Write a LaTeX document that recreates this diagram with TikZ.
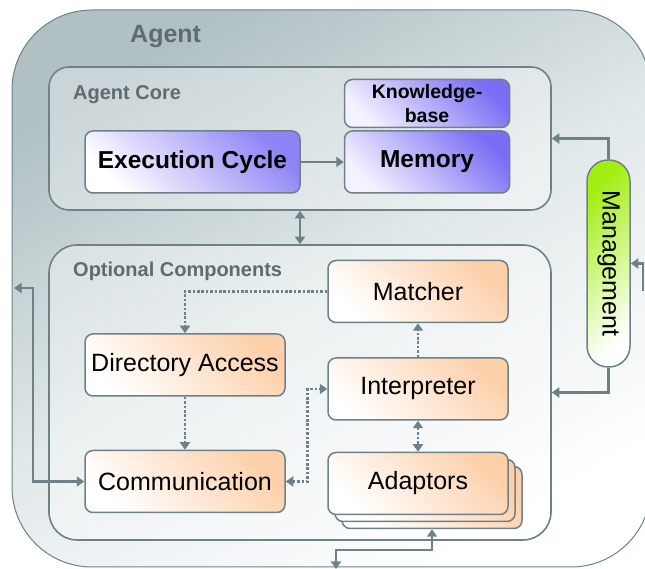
\documentclass[tikz,border=0pt]{standalone}
\usepackage{fontspec}
\usepackage{graphicx}
\setmainfont{Liberation Sans}
\usetikzlibrary{arrows.meta,positioning}
\definecolor{edgegray}{HTML}{6F8188}
\definecolor{titlegray}{HTML}{5E6C72}
\definecolor{agentgray}{HTML}{B0C0C3}
\definecolor{agentmid}{HTML}{E2E9EA}
\definecolor{corepurple}{HTML}{7A6EF4}
\definecolor{corelight}{HTML}{F4F2FF}
\definecolor{comporange}{HTML}{FDD0AA}
\definecolor{mgmtgreen}{HTML}{A2EE14}
\newcommand\compsize{\fontsize{25}{28}\selectfont}
\newcommand\coresize{\fontsize{24.5}{27}\selectfont}
\newcommand\kbsize{\fontsize{19.5}{24}\selectfont}
\newcommand\titlesize{\fontsize{20}{22}\selectfont}
\newcommand\agentsize{\fontsize{25}{28}\selectfont}
\tikzset{
    %Define standard arrow tip
    >={Triangle[width=10pt,length=7.5pt]},
    %Define style for the big frames
    container/.style={
           rectangle,
           rounded corners=20pt,
           draw=edgegray, line width=1.6pt,
           fill=white, fill opacity=0.35,
           inner sep=0pt},
    %Define style for boxes
    corebox/.style={
           rectangle,
           rounded corners=8pt,
           draw=edgegray, line width=1.5pt,
           top color=corepurple, bottom color=corelight,
           shading angle=-45,
           font=\coresize\bfseries,
           minimum height=62pt,
           inner sep=0pt},
    compbox/.style={
           rectangle,
           rounded corners=8pt,
           draw=edgegray, line width=1.5pt,
           top color=comporange, bottom color=white,
           shading angle=-45,
           font=\compsize,
           minimum width=180pt,
           minimum height=62pt,
           inner sep=0pt},
    title/.style={
           text=titlegray,
           font=\titlesize\bfseries,
           anchor=base west,
           inner sep=0pt},
    % Define arrow styles
    flow/.style={
           ->,
           draw=edgegray,
           line width=2.6pt},
    flowboth/.style={
           <->,
           draw=edgegray,
           line width=2.6pt},
    signal/.style={
           ->,
           draw=edgegray,
           line width=2.6pt,
           dash pattern=on 2.6pt off 1.8pt},
    signalboth/.style={
           <->,
           draw=edgegray,
           line width=2.6pt,
           dash pattern=on 2.6pt off 1.8pt}
}

\begin{document}
\begin{tikzpicture}[x=1pt, y=1pt]
 \useasboundingbox (0,0) rectangle (645,569);
 %frames
    \node[container, rounded corners=80pt, fill opacity=1, line width=1pt,
          top color=agentgray, bottom color=white, middle color=agentmid, shading angle=30,
          minimum width=639pt, minimum height=557pt] (agent) at (331.5,280.5) {};
    \node[container, minimum width=502pt, minimum height=143pt] (core) at (300,430.5) {};
    \node[container, rounded corners=28pt, minimum width=502pt, minimum height=295pt] (optional) at (300,176.5) {};
    \node[title, font=\agentsize\bfseries] (agentlabel) at (130,526) {Agent};
    \node[title] (corelabel) at (73,469) {Agent Core};
    \node[title] (optlabel) at (73,292) {Optional Components};
 %nodes
    \node[corebox, minimum width=215pt, top color=corepurple!85, bottom color=white,
          shading angle=-45] (exec) at (192.5,407) {Execution Cycle};
    \node[corebox, minimum width=165pt, right=43pt of exec] (mem) {Memory};
    \node[corebox, minimum width=165pt, minimum height=48pt, font=\kbsize\bfseries,
          align=center, above=2pt of mem] (kb) {Knowledge-\\base};
    \node[compbox] (matcher) at (418,277.5) {Matcher};
    \node[compbox, below=34pt of matcher] (interp) {Interpreter};
    \node[compbox, below=45pt of interp, xshift=14pt] (adapt3) {};
    \node[compbox, below=38pt of interp, xshift=7pt] (adapt2) {};
    \node[compbox, below=31pt of interp] (adapt) {Adaptors};
    \node[compbox, minimum width=200pt] (diracc) at (185,204) {Directory Access};
    \node[compbox, minimum width=200pt, below=53pt of diracc] (comm) {Communication};
    \node[rectangle, rounded corners=21pt, draw=edgegray, line width=1.5pt,
          top color=mgmtgreen, bottom color=white, shading angle=45,
          minimum width=43pt, minimum height=207pt, inner sep=0pt,
          font=\compsize] (mgmt) at (608.5,305.5) {\rotatebox{-90}{Management}};
 %free ends
    \coordinate (ext) at (643,278);
    \coordinate (leftout) at (14,281);
    \coordinate (leftbend) at (33,281);
    \coordinate (botout) at (336,0);
    \coordinate (botbend) at (432,19);
 %edges
    \draw[flow] (exec) -- (mem);
    \draw[flowboth] (core) -- (optional);
    \draw[flow] (mgmt.north) |- (core.east);
    \draw[flow] (mgmt.south) |- (optional.east);
    \draw[flow] (ext) |- (mgmt.east);
    \draw[flowboth] (leftout) -- (leftbend) |- (comm.west);
    \draw[flowboth] (botout) |- (botbend) -- (adapt3.south);
    \draw[signal] (matcher.west) -| (diracc.north);
    \draw[signal] (diracc) -- (comm);
    \draw[signalboth] (comm.east) -- ++(22,0) |- (interp.west);
    \draw[signalboth] (interp) -- (adapt);
    \draw[signal] (interp) -- (matcher);
\end{tikzpicture}
\end{document}
